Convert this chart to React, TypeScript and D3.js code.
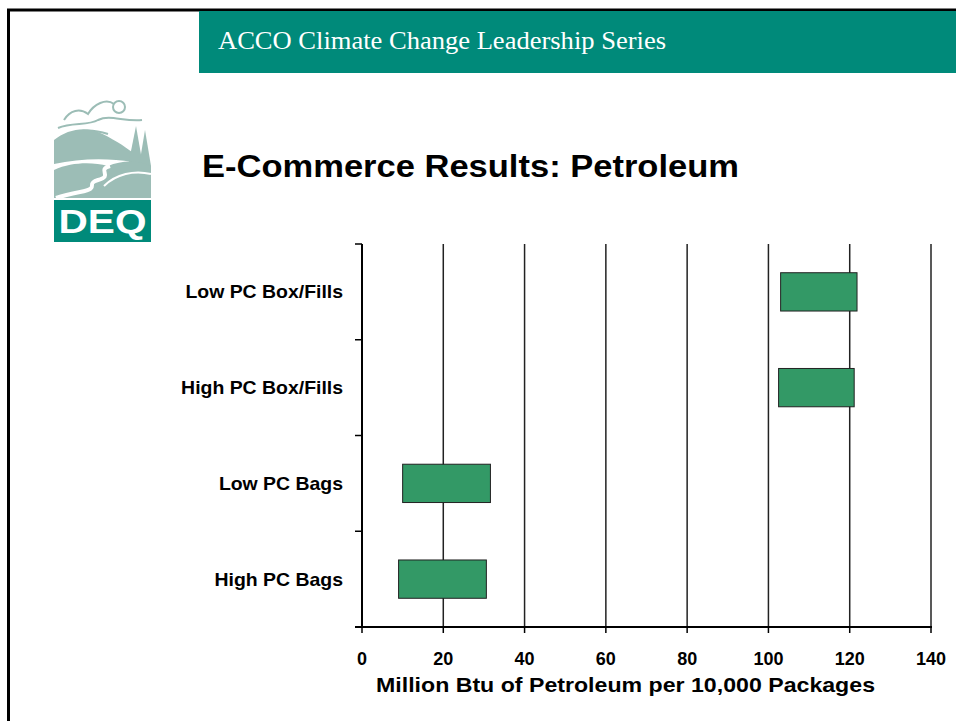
import React from "react";
import * as d3 from "d3";

const categories = ["Low PC Box/Fills", "High PC Box/Fills", "Low PC Bags", "High PC Bags"];
const lowValues = [103.0, 102.5, 10.0, 9.0];
const highValues = [121.8, 121.1, 31.6, 30.6];
const xTicks = [0, 20, 40, 60, 80, 100, 120, 140];

const W = 956;
const H = 721;
const TEAL = "#008a7a";
const LOGO = "#9cbdb6";

export default function App() {
  const x = d3.scaleLinear().domain([0, 140]).range([362, 931]);
  const y = d3.scaleBand<string>().domain(categories).range([244, 627]).paddingInner(0.6).paddingOuter(0.3);
  const step = y.step();
  const boundaries = d3.range(categories.length + 1).map((i) => 244 + i * step);
  const font = "'Liberation Sans', Arial, sans-serif";

  return (
    <svg width={W} height={H} style={{ position: "absolute", left: 0, top: 0, background: "#fff" }}>
      <rect x={0} y={0} width={W} height={H} fill="#fff" />
      {/* slide frame */}
      <line x1={8.5} y1={10} x2={8.5} y2={H} stroke="#000" strokeWidth={3} />
      <line x1={7} y1={10} x2={W} y2={10} stroke="#000" strokeWidth={3} />
      {/* header */}
      <rect x={199} y={11} width={W - 199} height={62} fill={TEAL} />
      <text x={218} y={49} fill="#fff" fontFamily="'Liberation Serif', 'Times New Roman', serif" fontSize={25} textLength={448} lengthAdjust="spacingAndGlyphs">
        ACCO Climate Change Leadership Series
      </text>
      {/* logo */}
      <g>
        <path d="M64,120 C70,110 80,108 88,114 C94,104 106,98 114,104" fill="none" stroke={LOGO} strokeWidth={2} />
        <path d="M58,128 C72,122 88,126 98,120 C110,114 124,122 142,120" fill="none" stroke={LOGO} strokeWidth={2} />
        <path d="M70,134 C84,128 96,130 108,134" fill="none" stroke={LOGO} strokeWidth={2} />
        <circle cx={119} cy={107} r={6} fill="none" stroke={LOGO} strokeWidth={2} />
        <path d="M54,140 C66,130 84,126 98,132 C112,138 124,146 132,152 L132,162 C110,158 80,158 54,164 Z" fill={LOGO} />
        <path d="M128,166 L136,126 L143,166 Z" fill={LOGO} />
        <path d="M139,166 L145,130 L151,166 Z" fill={LOGO} />
        <path d="M54,170 C72,162 92,162 108,166 C122,160 138,160 151,166 L151,198 L54,198 Z" fill={LOGO} />
        <path d="M110,166 C96,170 114,176 98,180 C84,184 102,188 80,192 C70,194 62,196 56,198" fill="none" stroke="#fff" strokeWidth={4} />
        <path d="M104,186 C116,174 134,170 151,174" fill="none" stroke="#fff" strokeWidth={2} />
        <rect x={54} y={200} width={97} height={42} fill={TEAL} />
        <text x={102.5} y={233} textAnchor="middle" fill="#fff" fontFamily={font} fontWeight="bold" fontSize={34} textLength={88} lengthAdjust="spacingAndGlyphs">DEQ</text>
      </g>
      {/* title */}
      <text x={202} y={177} fontFamily={font} fontWeight="bold" fontSize={31} fill="#000" textLength={537} lengthAdjust="spacingAndGlyphs">
        E-Commerce Results: Petroleum
      </text>
      {/* gridlines */}
      {xTicks.filter((t) => t > 0).map((t) => (
        <line key={"g" + t} x1={x(t)} x2={x(t)} y1={244} y2={627} stroke="#222" strokeWidth={1.5} />
      ))}
      {/* bars */}
      {categories.map((c, i) => (
        <rect
          key={c}
          x={x(lowValues[i])}
          y={y(c)}
          width={x(highValues[i]) - x(lowValues[i])}
          height={y.bandwidth()}
          fill="#339966"
          stroke="#222"
          strokeWidth={1}
        />
      ))}
      {/* y axis */}
      <line x1={362} x2={362} y1={244} y2={628} stroke="#000" strokeWidth={2} />
      {boundaries.map((b, i) => (
        <line key={"yt" + i} x1={355} x2={362} y1={b} y2={b} stroke="#000" strokeWidth={1.5} />
      ))}
      {categories.map((c) => (
        <text
          key={"l" + c}
          transform={`translate(343,${(y(c) as number) + y.bandwidth() / 2 + 6.5}) scale(1.08,1)`}
          textAnchor="end"
          fontFamily={font}
          fontWeight="bold"
          fontSize={18}
          fill="#000"
        >
          {c}
        </text>
      ))}
      {/* x axis */}
      <line x1={355} x2={932} y1={627} y2={627} stroke="#000" strokeWidth={2} />
      {xTicks.map((t) => (
        <g key={"xt" + t}>
          <line x1={x(t)} x2={x(t)} y1={627} y2={633} stroke="#000" strokeWidth={1.5} />
          <text x={x(t)} y={665} textAnchor="middle" fontFamily={font} fontWeight="bold" fontSize={18} fill="#000">
            {t}
          </text>
        </g>
      ))}
      <text x={625.5} y={692} textAnchor="middle" fontFamily={font} fontWeight="bold" fontSize={21} fill="#000" textLength={499} lengthAdjust="spacingAndGlyphs">
        Million Btu of Petroleum per 10,000 Packages
      </text>
    </svg>
  );
}
